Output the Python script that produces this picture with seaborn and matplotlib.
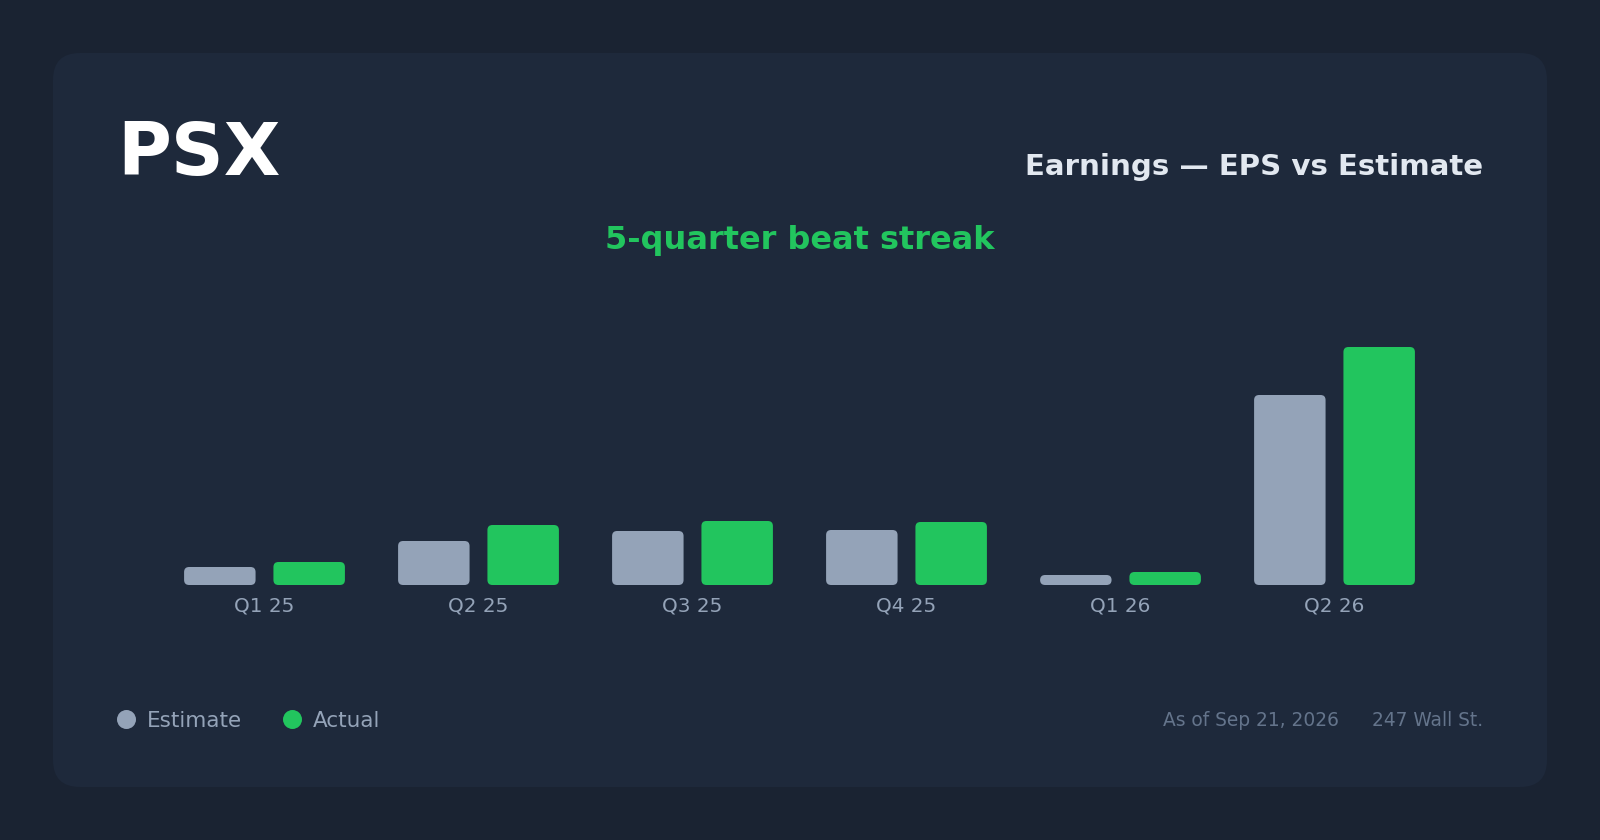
import pandas as pd
import matplotlib
matplotlib.use("Agg")
import matplotlib.pyplot as plt
from matplotlib.lines import Line2D
from matplotlib.patches import FancyBboxPatch
from matplotlib.transforms import Affine2D
import seaborn as sns

quarters = ["Q1 25", "Q2 25", "Q3 25", "Q4 25", "Q1 26", "Q2 26"]
estimate = [0.18, 0.44, 0.54, 0.55, 0.10, 1.90]
actual = [0.23, 0.60, 0.64, 0.63, 0.13, 2.38]
series_names = ["Estimate", "Actual"]

W, H = 1600, 840
BG, CARD = "#1a2332", "#1e293b"
GREY, GREEN = "#94a3b8", "#22c55e"

sns.set_theme(style="white")
plt.rcParams["font.family"] = ["DejaVu Sans"]

fig = plt.figure(figsize=(W / 100, H / 100), dpi=100, facecolor=BG)
px = Affine2D().scale(1 / W, -1 / H).translate(0, 1) + fig.transFigure

fig.add_artist(FancyBboxPatch((53, 53), 1494, 734, boxstyle="round,pad=0,rounding_size=27",
                              transform=px, facecolor=CARD, edgecolor="none", zorder=-5))

# Plot area: one category step = 214 px, one EPS dollar = 100 px
ax = fig.add_axes([157.5 / W, 1 - 585 / H, 1284 / W, 250 / H])
ax.patch.set_alpha(0)

df = pd.DataFrame({
    "quarter": quarters * 2,
    "series": [series_names[0]] * len(quarters) + [series_names[1]] * len(quarters),
    "eps": estimate + actual,
})
sns.barplot(data=df, x="quarter", y="eps", hue="series", order=quarters, hue_order=series_names,
            palette=[GREY, GREEN], width=0.835, gap=0.2, saturation=1, linewidth=0,
            errorbar=None, legend=False, ax=ax)
ax.set_xlim(-0.5, 5.5)
ax.set_ylim(0, 2.5)
ax.set_xlabel("")
ax.set_ylabel("")
ax.set_yticks([])
ax.tick_params(axis="x", length=0, pad=8, labelsize=20 * 0.72, labelcolor=GREY)
sns.despine(ax=ax, left=True, bottom=True)

# Rounded corners, 5 px radius
for bar in ax.patches:
    clip = FancyBboxPatch((bar.get_x(), bar.get_y()), bar.get_width(), bar.get_height(),
                          boxstyle=f"round,pad=0,rounding_size={5 / 214}",
                          mutation_aspect=214 / 100, transform=ax.transData)
    bar.set_clip_path(clip)

fig.text(117.5, 175, "PSX", transform=px, color="white", fontsize=73.5 * 0.72, fontweight="bold", va="baseline")
fig.text(1483, 175, "Earnings \u2014 EPS vs Estimate", transform=px, color="#e2e8f0",
         fontsize=29.2 * 0.72, fontweight="bold", ha="right", va="baseline")
fig.text(800, 249, "5-quarter beat streak", transform=px, color=GREEN,
         fontsize=32 * 0.72, fontweight="bold", ha="center", va="baseline")
fig.text(1339, 726, "As of Sep 21, 2026", transform=px, color="#64748b",
         fontsize=18.7 * 0.72, ha="right", va="baseline")
fig.text(1483, 726, "247 Wall St.", transform=px, color="#64748b",
         fontsize=18.7 * 0.72, ha="right", va="baseline")

handles = [Line2D([], [], linestyle="none", marker="o", markersize=19 * 0.72,
                  markerfacecolor=c, markeredgewidth=0) for c in (GREY, GREEN)]
fig.legend(handles, series_names, loc="lower left", bbox_to_anchor=(115.3 / W, 1 - 731 / H), ncol=2,
           frameon=False, fontsize=21.5 * 0.72, labelcolor=GREY, borderpad=0, borderaxespad=0,
           handlelength=1, handletextpad=0.45, columnspacing=1.85)

fig.savefig("out.png", dpi=100, facecolor=BG)
